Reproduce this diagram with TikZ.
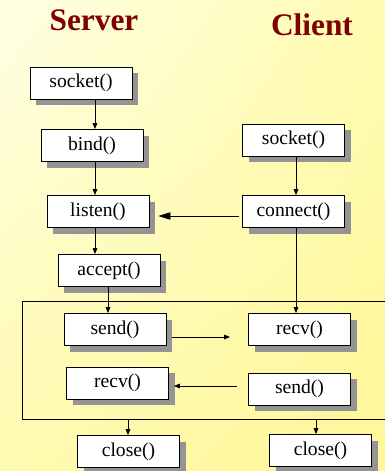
\documentclass[tikz,border=0pt]{standalone}
\usepackage{fontspec}
\setmainfont{Liberation Serif}
\usetikzlibrary{shadows, shadings, arrows.meta, positioning, calc}

\definecolor{titlered}{RGB}{128,0,0}
\definecolor{bgnw}{RGB}{255,255,228}
\definecolor{bgne}{RGB}{255,252,178}
\definecolor{bgsw}{RGB}{255,250,176}
\definecolor{bgse}{RGB}{255,246,150}

\begin{document}
\begin{tikzpicture}[
        x=0.75pt, y=-0.75pt,
        call/.style={rectangle, draw=black, line width=0.6pt, fill=white, minimum width=76.5pt, minimum height=24pt, inner sep=0pt, font=\fontsize{14.7}{16}\selectfont,
            drop shadow={shadow xshift=4.5pt, shadow yshift=-4.5pt, fill=black!42, opacity=1}},
        side/.style={font=\bfseries\fontsize{23.5}{26}\selectfont, text=titlered, anchor=base, inner sep=0pt},
        arrow/.style={-{Triangle[length=4.5pt, width=3.5pt]}, line width=0.6pt},
        bigarrow/.style={-{Triangle[length=9pt, width=5.5pt]}, line width=0.6pt}
    ]
        % Background
        \useasboundingbox (0,0) rectangle (385,471);
        \shade[upper left=bgnw, upper right=bgne, lower left=bgsw, lower right=bgse]
            (0,0) rectangle (385,471);

        % Column headings
        \node[side] (server) at (94,30) {Server};
        \node[side] (client) at (312,35) {Client};

        % Columns and rows used by the connectors
        \coordinate (sA) at (95,0);
        \coordinate (sB) at (108,0);
        \coordinate (sC) at (128,0);
        \coordinate (cA) at (296,0);
        \coordinate (cB) at (316,0);
        \coordinate (rowconn) at (0,216);
        \coordinate (rowdata) at (0,337);
        \coordinate (rowback) at (0,386);

        % Data exchange loop
        \coordinate (loopnw) at (22,301);
        \coordinate (loopse) at (392,419);
        \draw[line width=0.6pt] (loopnw) rectangle (loopse);

        % Server calls
        \node[call] (ssocket) at (81,83) {socket()};
        \node[call] (sbind) at (92,145.5) {bind()};
        \node[call] (slisten) at (98,211.5) {listen()};
        \node[call] (saccept) at (109,270.5) {accept()};
        \node[call] (ssend) at (115,329.5) {send()};
        \node[call] (srecv) at (117.5,383) {recv()};
        \node[call] (sclose) at (128.5,451.5) {close()};

        % Client calls
        \node[call] (csocket) at (293.5,140) {socket()};
        \node[call] (cconnect) at (293.5,211.5) {connect()};
        \node[call] (crecv) at (299.5,329.5) {recv()};
        \node[call] (csend) at (299.5,389) {send()};
        \node[call] (cclose) at (320.5,450.5) {close()};

        % Server flow
        \draw[arrow] (ssocket.south -| sA) -- (sbind.north -| sA);
        \draw[arrow] (sbind.south -| sA) -- (slisten.north -| sA);
        \draw[arrow] (slisten.south -| sA) -- (saccept.north -| sA);
        \draw[arrow] (saccept.south -| sB) -- (ssend.north -| sB);
        \draw[arrow] (loopse -| sC) -- (sclose.north -| sC);

        % Client flow
        \draw[arrow] (csocket.south -| cA) -- (cconnect.north -| cA);
        \draw[arrow] (cconnect.south -| cA) -- (crecv.north -| cA);
        \draw[arrow] (loopse -| cB) -- (cclose.north -| cB);

        % Between the two sides
        \draw[bigarrow, shorten <=2.25pt, shorten >=6.75pt] (cconnect.west |- rowconn) -- (slisten.east |- rowconn);
        \draw[arrow, shorten <=4.5pt, shorten >=13.5pt] (ssend.east |- rowdata) -- (crecv.west |- rowdata);
        \draw[arrow, shorten <=8.25pt, shorten >=3.75pt] (csend.west |- rowback) -- (srecv.east |- rowback);
    \end{tikzpicture}
\end{document}
